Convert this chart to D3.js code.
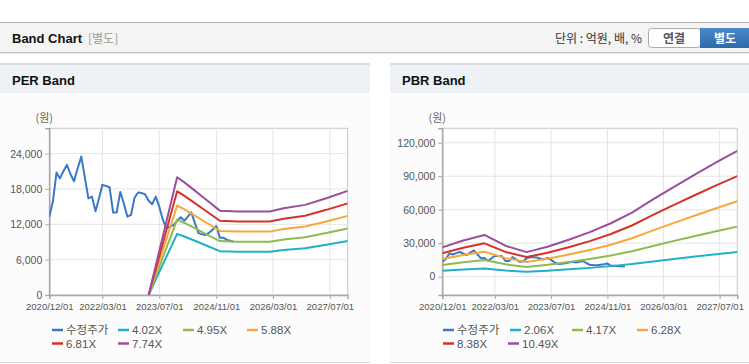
<!DOCTYPE html>
<html>
<head>
<meta charset="utf-8">
<style>
body { margin: 0; background: #fff; }
svg { display: block; font-family: "Liberation Sans", Arial, "Noto Sans CJK KR", sans-serif; }
.kr { font-family: "Noto Sans CJK KR", sans-serif; }
</style>
</head>
<body>
<svg id="container" width="749" height="364"></svg>
<script src="https://cdn.jsdelivr.net/npm/d3@7/dist/d3.min.js"></script>
<script>
// 수정주가 (monthly, from 2020/12)
var priceStart = "2020-12-01";
var priceValues = [13300, 15900, 20800, 19800, 21000, 22100, 20500, 19300, 21500, 23500,
  20000, 16400, 16700, 14200, 16500, 18700, 18500, 18300, 14000, 14000,
  17500, 15500, 13300, 13600, 16500, 17400, 17300, 17100, 16000, 15400,
  16700, 15000, 12750, 11300, 11600, 11900, 12600, 13200, 12600, 13300,
  14000, 12200, 10500, 10300, 10200, 10600, 11100, 11700, 9700, 9700,
  9350, 9200, 9000];

// PER band : EPS x multiple
var perMultiples = [4.02, 4.95, 5.88, 6.81, 7.74];
var epsDates = ["2023-04-01", "2023-12-01", "2024-02-01", "2024-05-01", "2024-08-01", "2024-12-01",
  "2025-05-01", "2026-02-01", "2026-06-01", "2026-12-01", "2027-06-01", "2027-12-01"];
var epsValues = [0, 2584, 2470, 2290, 2100, 1850, 1830, 1830, 1903, 1977, 2123, 2284];

// PBR band : BPS x multiple
var pbrMultiples = [2.06, 4.17, 6.28, 8.38, 10.49];
var bpsDates = ["2020-12-01", "2021-06-01", "2021-12-01", "2022-06-01", "2022-12-01", "2023-06-01",
  "2023-12-01", "2024-06-01", "2024-12-01", "2025-06-01", "2025-12-01", "2026-06-01",
  "2026-12-01", "2027-06-01", "2027-12-01"];
var bpsValues = [2500, 3090, 3560, 2640, 2090, 2550, 3150, 3800, 4560, 5470, 6600, 7680, 8730, 9760, 10750];

var xTickLabels = ["2020/12/01", "2022/03/01", "2023/07/01", "2024/11/01", "2026/03/01", "2027/07/01"];
var perTicks = [0, 6000, 12000, 18000, 24000];
var pbrTicks = [0, 30000, 60000, 90000, 120000];
var seriesColors = ["#3b78c6", "#1fb2c7", "#8dbb4f", "#f6a83a", "#d6322b", "#9a4f9c"];

var parse = d3.timeParse("%Y-%m-%d");
var parseTick = d3.timeParse("%Y/%m/%d");
var svg = d3.select("#container");
var defs = svg.append("defs");

// ---- top bar ----
svg.append("rect").attr("x", 0).attr("y", 22).attr("width", 749).attr("height", 31).attr("fill", "#f4f4f4");
svg.append("line").attr("x1", 0).attr("x2", 749).attr("y1", 22.5).attr("y2", 22.5).attr("stroke", "#b8b8b8");
svg.append("line").attr("x1", 0).attr("x2", 749).attr("y1", 52.5).attr("y2", 52.5).attr("stroke", "#c4c4c4");
svg.append("line").attr("x1", 0).attr("x2", 749).attr("y1", 53.5).attr("y2", 53.5).attr("stroke", "#e6e6e6");
svg.append("text").attr("x", 12).attr("y", 42.5).attr("font-size", 13).attr("font-weight", "bold")
  .attr("fill", "#111").text("Band Chart");
svg.append("text").attr("class", "kr").attr("x", 88).attr("y", 42.5).attr("font-size", 12)
  .attr("fill", "#999").text("[별도]");
svg.append("text").attr("class", "kr").attr("x", 642).attr("y", 42.5).attr("font-size", 12)
  .attr("text-anchor", "end").attr("fill", "#333").text("단위 : 억원, 배, %");
svg.append("rect").attr("x", 648.5).attr("y", 28.5).attr("width", 52).attr("height", 19).attr("rx", 3)
  .attr("fill", "#fff").attr("stroke", "#aaa");
svg.append("text").attr("class", "kr").attr("x", 674).attr("y", 42.5).attr("font-size", 12)
  .attr("font-weight", "bold").attr("text-anchor", "middle").attr("fill", "#555").text("연결");
var grad = defs.append("linearGradient").attr("id", "btn").attr("x1", 0).attr("x2", 0).attr("y1", 0).attr("y2", 1);
grad.append("stop").attr("offset", "0%").attr("stop-color", "#4a8bcc");
grad.append("stop").attr("offset", "100%").attr("stop-color", "#2d6aa9");
svg.append("rect").attr("x", 700).attr("y", 28).attr("width", 55).attr("height", 20).attr("fill", "url(#btn)");
svg.append("text").attr("class", "kr").attr("x", 725).attr("y", 42.5).attr("font-size", 12)
  .attr("font-weight", "bold").attr("text-anchor", "middle").attr("fill", "#fff").text("별도");

// ---- panels ----
var panels = [
  { x0: 0, x1: 370, title: "PER Band", left: 49.3, right: 347.7, yMax: 28300, yMin: 0, ticks: perTicks,
    multiples: perMultiples, baseDates: epsDates, baseValues: epsValues,
    legend: [[52, 0], [118, 0], [183, 0], [247, 0], [52, 1], [118, 1]] },
  { x0: 390, x1: 749, title: "PBR Band", left: 442.3, right: 737.3, yMax: 133000, yMin: -16500, ticks: pbrTicks,
    multiples: pbrMultiples, baseDates: bpsDates, baseValues: bpsValues,
    legend: [[443, 0], [510, 0], [572, 0], [637, 0], [443, 1], [508, 1]] }
];
var plotTop = 128.3, plotBottom = 295;
var fmt = d3.format(",");

panels.forEach(function(p, pi) {
  var w = p.x1 - p.x0;
  svg.append("rect").attr("x", p.x0).attr("y", 64).attr("width", w).attr("height", 298).attr("fill", "#fcfcfc");
  svg.append("rect").attr("x", p.x0).attr("y", 64).attr("width", w).attr("height", 29).attr("fill", "#eef2f7");
  svg.append("line").attr("x1", p.x0).attr("x2", p.x1).attr("y1", 64).attr("y2", 64).attr("stroke", "#d2d2d2").attr("stroke-width", 1.5);
  svg.append("line").attr("x1", p.x0).attr("x2", p.x1).attr("y1", 362.5).attr("y2", 362.5).attr("stroke", "#dadada");
  svg.append("text").attr("x", p.x0 + 12).attr("y", 85).attr("font-size", 13).attr("font-weight", "bold")
    .attr("fill", "#111").text(p.title);
  svg.append("text").attr("class", "kr").attr("x", p.left - 5).attr("y", 122).attr("font-size", 11)
    .attr("text-anchor", "middle").attr("fill", "#666").text("(원)");

  var x = d3.scaleTime().domain([parse("2020-12-01"), parse("2027-12-01")]).range([p.left, p.right]);
  var y = d3.scaleLinear().domain([p.yMin, p.yMax]).range([plotBottom, plotTop]);
  var tickDates = xTickLabels.map(parseTick);

  var g = svg.append("g");
  g.append("rect").attr("x", p.left).attr("y", plotTop).attr("width", p.right - p.left).attr("height", plotBottom - plotTop)
    .attr("fill", "#fff").attr("stroke", "#c8c8c8");
  // grid
  g.selectAll(".vg").data(tickDates).enter().append("line")
    .attr("x1", function(d) { return x(d); }).attr("x2", function(d) { return x(d); })
    .attr("y1", plotTop).attr("y2", plotBottom).attr("stroke", "#e4e4e4");
  g.selectAll(".hg").data(p.ticks).enter().append("line")
    .attr("x1", p.left).attr("x2", p.right)
    .attr("y1", function(d) { return y(d); }).attr("y2", function(d) { return y(d); }).attr("stroke", "#e4e4e4");

  // axes
  var yAxis = d3.axisLeft(y).tickValues(p.ticks).tickFormat(fmt).tickSize(4).tickPadding(3);
  var ya = g.append("g").attr("transform", "translate(" + p.left + ",0)").call(yAxis);
  var xAxis = d3.axisBottom(x).tickValues(tickDates).tickFormat(function(d, i) { return xTickLabels[i]; })
    .tickSize(4).tickPadding(4);
  var xa = g.append("g").attr("transform", "translate(0," + plotBottom + ")").call(xAxis);
  [ya, xa].forEach(function(a) {
    a.select(".domain").attr("stroke", "#a8a8a8").attr("stroke-width", 1.5);
    a.selectAll(".tick line").attr("stroke", "#a8a8a8");
    a.selectAll("text").attr("fill", "#555").attr("font-family", "Liberation Sans, Arial, sans-serif");
  });
  ya.selectAll("text").attr("font-size", 10.5);
  xa.selectAll("text").attr("font-size", 9.5);

  // clip
  var cid = "clip" + pi;
  defs.append("clipPath").attr("id", cid).append("rect")
    .attr("x", p.left).attr("y", plotTop).attr("width", p.right - p.left).attr("height", plotBottom - plotTop);
  var plot = g.append("g").attr("clip-path", "url(#" + cid + ")");

  var line = d3.line().x(function(d) { return x(d.date); }).y(function(d) { return y(d.v); });
  var price = priceValues.map(function(v, i) { return { date: d3.timeMonth.offset(parse(priceStart), i), v: v }; });
  plot.append("path").datum(price).attr("d", line).attr("fill", "none")
    .attr("stroke", seriesColors[0]).attr("stroke-width", 2).attr("stroke-linejoin", "round");
  p.multiples.forEach(function(m, k) {
    var band = p.baseValues.map(function(v, i) { return { date: parse(p.baseDates[i]), v: v * m }; });
    plot.append("path").datum(band).attr("d", line).attr("fill", "none")
      .attr("stroke", seriesColors[k + 1]).attr("stroke-width", 2).attr("stroke-linejoin", "round");
  });

  // legend
  var names = ["수정주가"].concat(p.multiples.map(function(m) { return m.toFixed(2) + "X"; }));
  names.forEach(function(n, i) {
    var lx = p.legend[i][0], ly = 330 + p.legend[i][1] * 13.5;
    svg.append("line").attr("x1", lx).attr("x2", lx + 11).attr("y1", ly).attr("y2", ly)
      .attr("stroke", seriesColors[i]).attr("stroke-width", 2.5);
    svg.append("text").attr("class", i === 0 ? "kr" : null).attr("x", lx + 14).attr("y", ly + 4)
      .attr("font-size", 11.5).attr("fill", "#555").text(n);
  });
});
</script>
</body>
</html>
